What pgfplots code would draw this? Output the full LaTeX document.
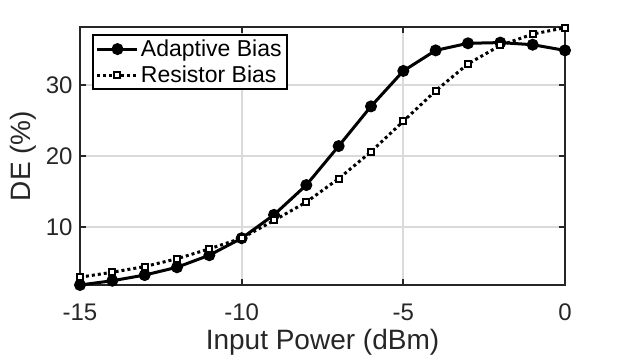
\documentclass[border=0pt]{standalone}
\usepackage{pgfplots}
\pgfplotsset{compat=1.18}
\usepackage{fontspec}
\setmainfont{Liberation Sans}
\definecolor{axgray}{RGB}{38,38,38}
\definecolor{gridgray}{RGB}{218,218,218}
\begin{document}
\begin{tikzpicture}
\begin{axis}[
  at={(0pt,0pt)}, anchor=south west,
  scale only axis, width=485pt, height=258pt,
  xmin=-15, xmax=0, ymin=1.8, ymax=38.2,
  xtick={-15,-10,-5,0}, xticklabels={-15,-10,-5,0},
  ytick={10,20,30}, yticklabels={10,20,30},
  grid=major, major grid style={gridgray, line width=2pt},
  axis line style={axgray, line width=2pt},
  tick style={axgray, line width=2pt},
  tick align=inside, major tick length=6pt,
  ticklabel style={font=\fontsize{24}{28}\selectfont, text=axgray},
  xticklabel style={yshift=-15pt},
  yticklabel style={xshift=-4pt},
  /pgf/number format/assume math mode=true,
  xlabel={Input Power (dBm)}, ylabel={DE (\%)},
  label style={font=\fontsize{28}{33}\selectfont, text=axgray},
  xlabel style={yshift=-2pt},
  ylabel style={yshift=3pt},
  clip=false,
  legend cell align=left,
  legend style={at={(0,1)}, anchor=north west, xshift=12pt, yshift=-7pt,
    draw=black, line width=2pt, fill=white,
    font=\fontsize{23}{27}\selectfont, inner sep=3pt,
    row sep=4pt},
  legend image code/.code={\draw[mark repeat=2,mark phase=2,#1] plot coordinates {(0pt,0pt) (20pt,0pt) (40pt,0pt)};},
]
\addplot[black, line width=3pt, mark=*, mark size=5.5pt, mark options={solid, fill=black, line width=1pt}]
coordinates {(-15,1.8) (-14,2.4) (-13,3.2) (-12,4.3) (-11,6.0) (-10,8.4) (-9,11.7) (-8,15.9) (-7,21.4) (-6,27.0) (-5,32.0) (-4,34.9) (-3,35.9) (-2,36.0) (-1,35.7) (0,34.9)};
\addlegendentry{Adaptive Bias}
\addplot[black, line width=3pt, dash pattern=on 3pt off 3pt, mark=square*, mark size=3pt, mark options={solid, fill=white, line width=2pt}]
coordinates {(-15,2.9) (-14,3.6) (-13,4.4) (-12,5.5) (-11,6.9) (-10,8.4) (-9,10.9) (-8,13.5) (-7,16.8) (-6,20.6) (-5,24.9) (-4,29.2) (-3,33.0) (-2,35.6) (-1,37.2) (0,38.1)};
\addlegendentry{Resistor Bias}
\end{axis}
\pgfresetboundingbox
\path (-80pt,-78pt) rectangle (542pt,285pt);
\end{tikzpicture}
\end{document}
